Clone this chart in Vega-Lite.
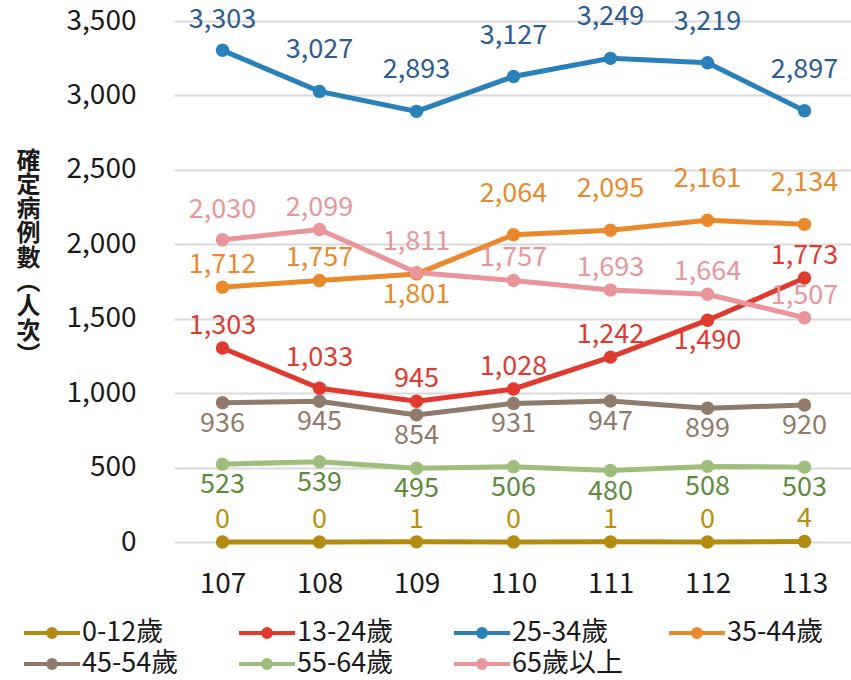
{
  "$schema": "https://vega.github.io/schema/vega-lite/v6.json",
  "width": 679,
  "height": 521,
  "autosize": {"type": "none"},
  "padding": {"left": 174, "top": 21, "right": 0, "bottom": 138},
  "background": "white",
  "config": {
    "font": "Noto Sans CJK TC",
    "view": {"stroke": null},
    "legend": {
      "symbolType": "M-2,0H2M-0.28,0A0.28,0.28 0 1,1 0.28,0A0.28,0.28 0 1,1 -0.28,0",
      "symbolSize": 784
    }
  },
  "data": {
    "values": [
      {"year": 107, "group": "0-12歲", "value": 0},
      {"year": 108, "group": "0-12歲", "value": 0},
      {"year": 109, "group": "0-12歲", "value": 1},
      {"year": 110, "group": "0-12歲", "value": 0},
      {"year": 111, "group": "0-12歲", "value": 1},
      {"year": 112, "group": "0-12歲", "value": 0},
      {"year": 113, "group": "0-12歲", "value": 4},
      {"year": 107, "group": "13-24歲", "value": 1303},
      {"year": 108, "group": "13-24歲", "value": 1033},
      {"year": 109, "group": "13-24歲", "value": 945},
      {"year": 110, "group": "13-24歲", "value": 1028},
      {"year": 111, "group": "13-24歲", "value": 1242},
      {"year": 112, "group": "13-24歲", "value": 1490},
      {"year": 113, "group": "13-24歲", "value": 1773},
      {"year": 107, "group": "25-34歲", "value": 3303},
      {"year": 108, "group": "25-34歲", "value": 3027},
      {"year": 109, "group": "25-34歲", "value": 2893},
      {"year": 110, "group": "25-34歲", "value": 3127},
      {"year": 111, "group": "25-34歲", "value": 3249},
      {"year": 112, "group": "25-34歲", "value": 3219},
      {"year": 113, "group": "25-34歲", "value": 2897},
      {"year": 107, "group": "35-44歲", "value": 1712},
      {"year": 108, "group": "35-44歲", "value": 1757},
      {"year": 109, "group": "35-44歲", "value": 1801},
      {"year": 110, "group": "35-44歲", "value": 2064},
      {"year": 111, "group": "35-44歲", "value": 2095},
      {"year": 112, "group": "35-44歲", "value": 2161},
      {"year": 113, "group": "35-44歲", "value": 2134},
      {"year": 107, "group": "45-54歲", "value": 936},
      {"year": 108, "group": "45-54歲", "value": 945},
      {"year": 109, "group": "45-54歲", "value": 854},
      {"year": 110, "group": "45-54歲", "value": 931},
      {"year": 111, "group": "45-54歲", "value": 947},
      {"year": 112, "group": "45-54歲", "value": 899},
      {"year": 113, "group": "45-54歲", "value": 920},
      {"year": 107, "group": "55-64歲", "value": 523},
      {"year": 108, "group": "55-64歲", "value": 539},
      {"year": 109, "group": "55-64歲", "value": 495},
      {"year": 110, "group": "55-64歲", "value": 506},
      {"year": 111, "group": "55-64歲", "value": 480},
      {"year": 112, "group": "55-64歲", "value": 508},
      {"year": 113, "group": "55-64歲", "value": 503},
      {"year": 107, "group": "65歲以上", "value": 2030},
      {"year": 108, "group": "65歲以上", "value": 2099},
      {"year": 109, "group": "65歲以上", "value": 1811},
      {"year": 110, "group": "65歲以上", "value": 1757},
      {"year": 111, "group": "65歲以上", "value": 1693},
      {"year": 112, "group": "65歲以上", "value": 1664},
      {"year": 113, "group": "65歲以上", "value": 1507}
    ]
  },
  "encoding": {
    "x": {
      "field": "year", "type": "ordinal",
      "scale": {"type": "point", "padding": 0.5},
      "axis": {
        "title": null, "labelAngle": 0, "domain": false, "ticks": false, "grid": false,
        "labelFontSize": 28, "labelColor": "#1a1a1a", "labelPadding": 28
      }
    },
    "y": {
      "field": "value", "type": "quantitative",
      "scale": {"domain": [0, 3500], "nice": false, "zero": true},
      "axis": {
        "values": [0, 500, 1000, 1500, 2000, 2500, 3000, 3500],
        "format": ",d",
        "domain": false, "ticks": false,
        "grid": true, "gridColor": "#d9d9d9", "gridWidth": 2,
        "labelFontSize": 28, "labelColor": "#1a1a1a", "labelPadding": 38,
        "title": ["確", "定", "病", "例", "數", "︵", "人", "次", "︶"],
        "titleAngle": 0, "titleAlign": "center", "titleBaseline": "top",
        "titleX": -146, "titleY": 128,
        "titleFontSize": 24, "titleFontWeight": "bold", "titleLineHeight": 24.3,
        "titleColor": "#1a1a1a"
      }
    }
  },
  "layer": [
    {
      "mark": {"type": "line", "strokeWidth": 5},
      "encoding": {
        "color": {
          "field": "group", "type": "nominal",
          "scale": {
            "domain": ["0-12歲", "13-24歲", "25-34歲", "35-44歲", "45-54歲", "55-64歲", "65歲以上"],
            "range": ["#B38B10", "#E03A2E", "#2A80B9", "#E9892C", "#907B6B", "#9DBF7B", "#E8969A"]
          },
          "legend": {
            "title": null, "orient": "none", "direction": "horizontal", "columns": 4,
            "legendX": -152, "legendY": 596, "padding": 0,
            "gridAlign": "all", "columnPadding": 38, "rowPadding": 2,
            "symbolOffset": 14, "labelOffset": 14, "symbolStrokeWidth": 4,
            "labelFontSize": 27, "labelColor": "#1a1a1a",
            "encode": {
              "symbols": {
                "update": {
                  "fill": {"scale": "color", "field": "value"},
                  "stroke": {"scale": "color", "field": "value"},
                  "opacity": {"value": 1}
                }
              }
            }
          }
        }
      }
    },
    {
      "mark": {"type": "circle", "size": 180, "opacity": 1},
      "encoding": {
        "color": {"field": "group", "type": "nominal"}
      }
    },
    {
      "transform": [{"filter": "datum.group == '45-54歲' || datum.group == '55-64歲' || (datum.group == '35-44歲' && datum.year == 109) || (datum.group == '13-24歲' && datum.year == 112)"}],
      "mark": {"type": "text", "fontSize": 27, "baseline": "middle", "dy": 21},
      "encoding": {
        "text": {"field": "value", "type": "quantitative", "format": ","},
        "fill": {"field": "group", "type": "nominal", "legend": null,
          "scale": {
            "domain": ["0-12歲", "13-24歲", "25-34歲", "35-44歲", "45-54歲", "55-64歲", "65歲以上"],
            "range": ["#B8900E", "#E03A2E", "#2B5C92", "#E9892C", "#907B6B", "#5E8A3C", "#E8969A"]
          }
        }
      }
    },
    {
      "transform": [{"filter": "(datum.group == '25-34歲' && datum.year != 107) || (datum.group == '35-44歲' && datum.year >= 110)"}],
      "mark": {"type": "text", "fontSize": 27, "baseline": "middle", "dy": -41},
      "encoding": {
        "text": {"field": "value", "type": "quantitative", "format": ","},
        "fill": {"field": "group", "type": "nominal", "legend": null}
      }
    },
    {
      "transform": [{"filter": "(datum.group == '25-34歲' && datum.year == 107) || (datum.group == '65歲以上' && (datum.year == 107 || datum.year == 109)) || (datum.group == '13-24歲' && datum.year == 108)"}],
      "mark": {"type": "text", "fontSize": 27, "baseline": "middle", "dy": -30},
      "encoding": {
        "text": {"field": "value", "type": "quantitative", "format": ","},
        "fill": {"field": "group", "type": "nominal", "legend": null}
      }
    },
    {
      "transform": [{"filter": "!(datum.group == '45-54歲' || datum.group == '55-64歲' || (datum.group == '35-44歲' && datum.year == 109) || (datum.group == '13-24歲' && datum.year == 112) || (datum.group == '25-34歲') || (datum.group == '35-44歲' && datum.year >= 110) || (datum.group == '65歲以上' && (datum.year == 107 || datum.year == 109)) || (datum.group == '13-24歲' && datum.year == 108))"}],
      "mark": {"type": "text", "fontSize": 27, "baseline": "middle", "dy": -22},
      "encoding": {
        "text": {"field": "value", "type": "quantitative", "format": ","},
        "fill": {"field": "group", "type": "nominal", "legend": null}
      }
    }
  ]
}
